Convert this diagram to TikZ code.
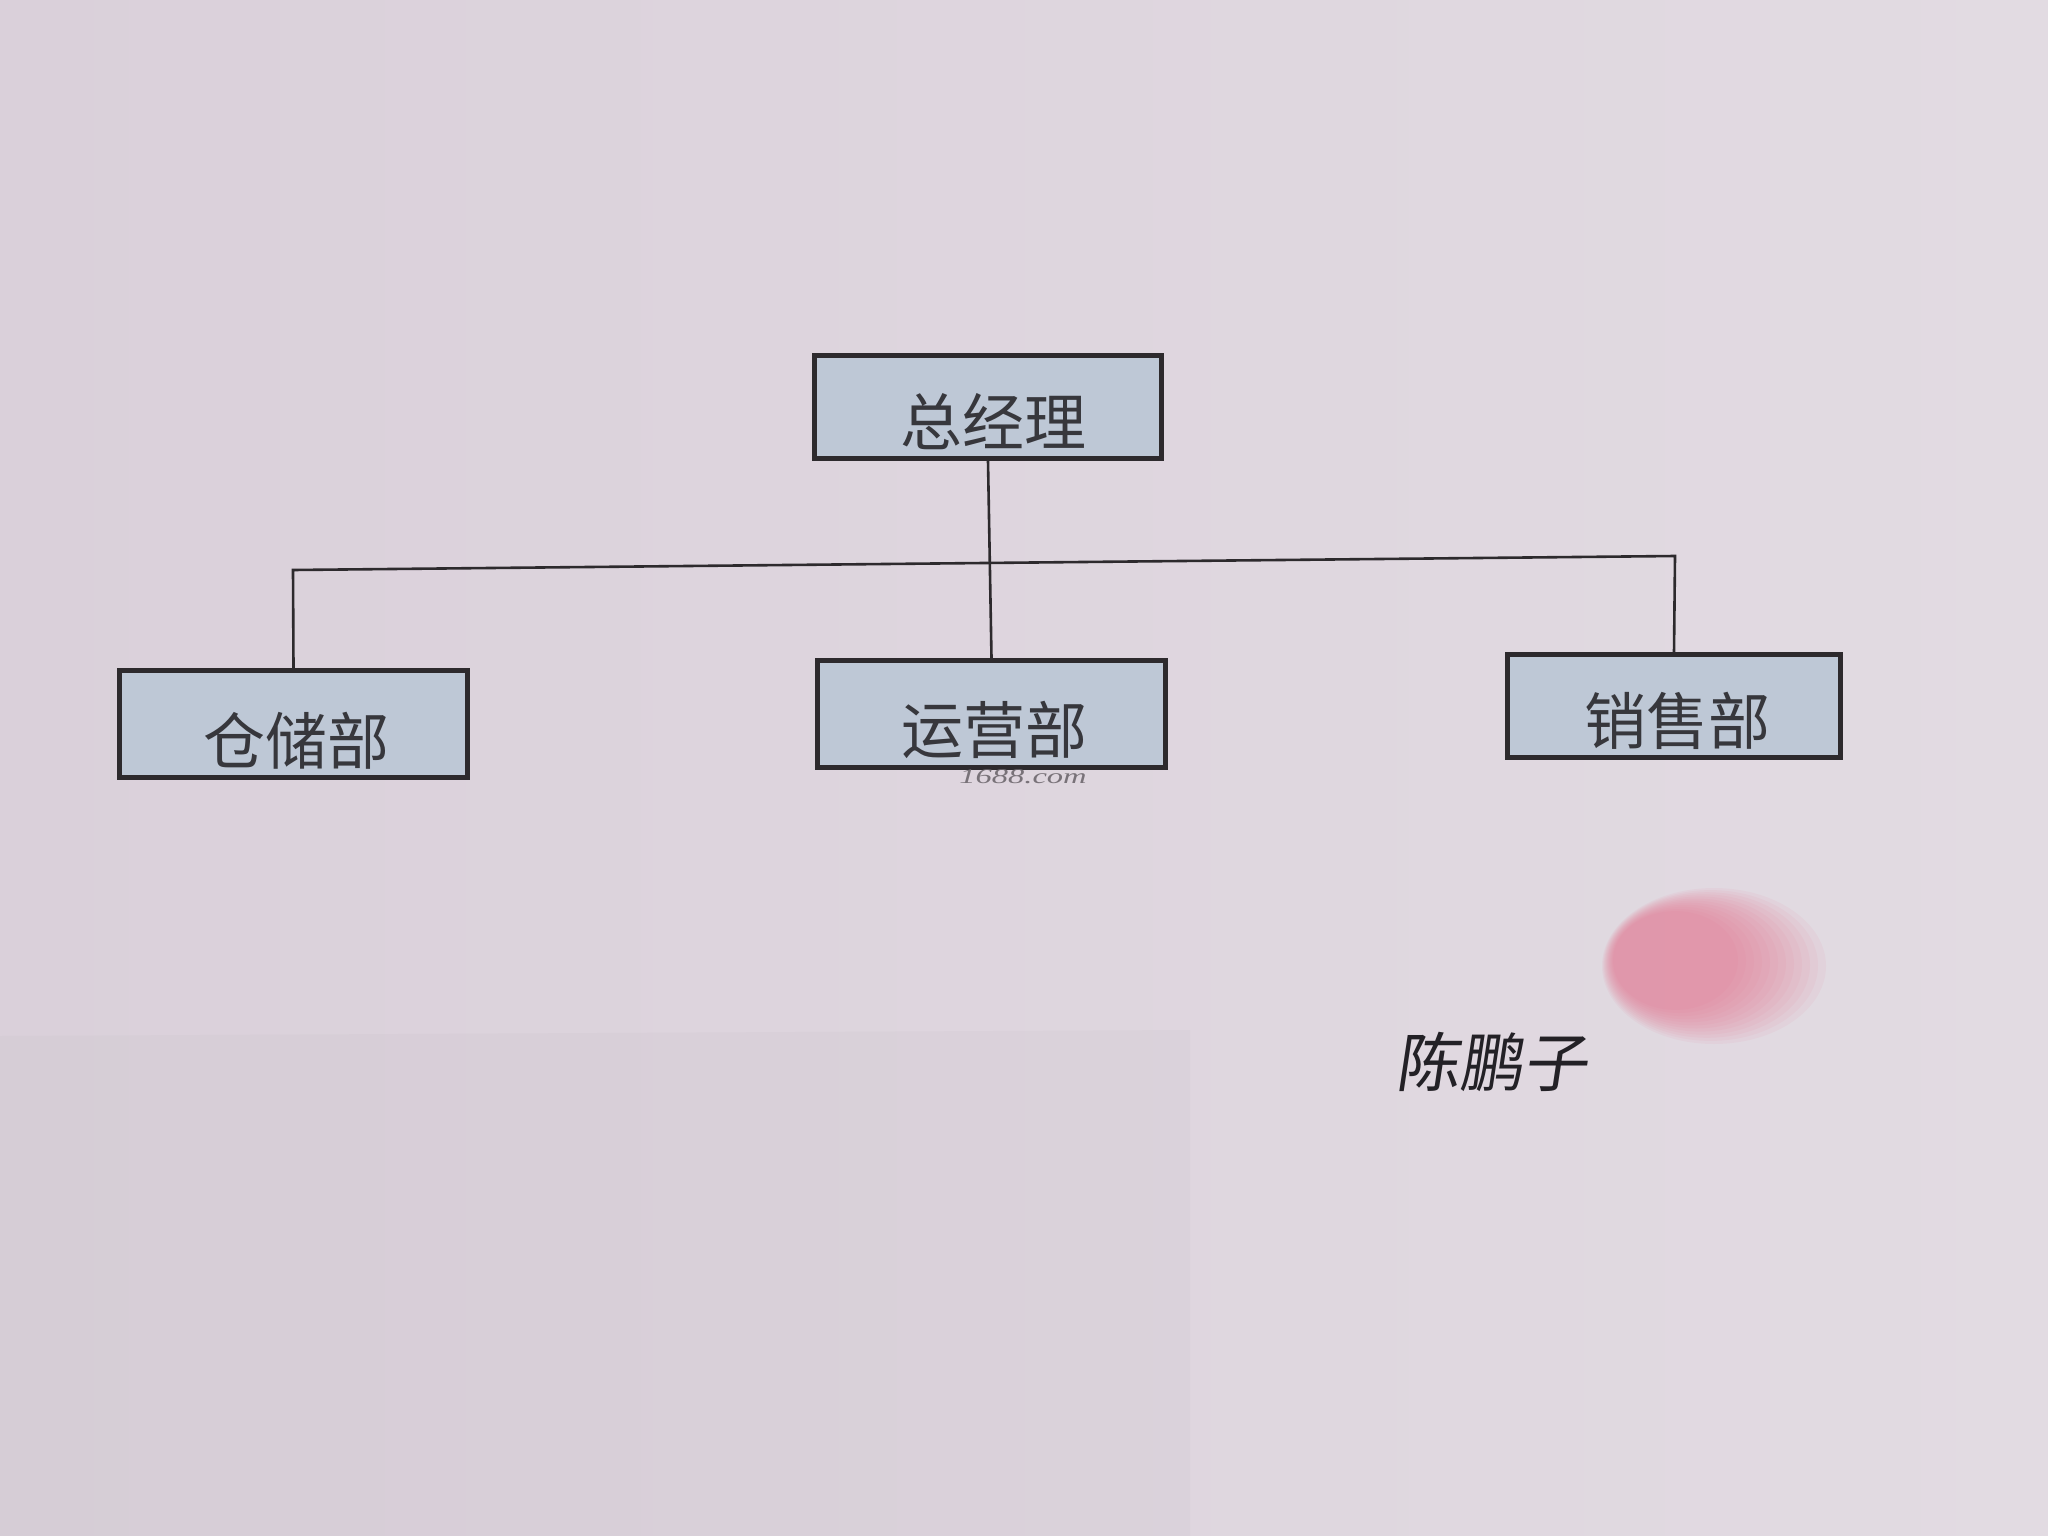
\documentclass[tikz,border=0pt]{standalone}
\usepackage{fontspec}
\setmainfont{Liberation Serif}
\newfontfamily\cjk{Noto Sans CJK SC}
\definecolor{paperL}{RGB}{218,208,218}
\definecolor{paperR}{RGB}{226,219,226}
\definecolor{shadowc}{RGB}{200,193,201}
\definecolor{boxfill}{RGB}{190,200,214}
\definecolor{border}{RGB}{45,42,45}
\definecolor{txt}{RGB}{55,55,60}
\definecolor{wmc}{RGB}{110,104,110}
\definecolor{sigc}{RGB}{35,33,38}
\definecolor{fp}{RGB}{232,112,140}
\begin{document}
\begin{tikzpicture}[x=1pt,y=-1pt,
  box/.style={draw=border, line width=5pt, fill=boxfill, inner sep=0pt},
  lbl/.style={font=\cjk\fontsize{62}{70}\selectfont, text=txt, inner sep=0pt},
  conn/.style={draw=border, line width=2.6pt}]
\useasboundingbox (0,0) rectangle (2048,1536);
% paper
\shade[left color=paperL, right color=paperR] (0,0) rectangle (2048,1536);
\fill[shadowc, opacity=.18] (0,1036) -- (1190,1030) -- (1190,1536) -- (0,1536) -- cycle;
% boxes
\node[box, minimum width=347pt, minimum height=103pt] (gm) at (988,407) {};
\node[box, minimum width=348pt, minimum height=107pt] (wh) at (293.5,724) {};
\node[box, minimum width=348pt, minimum height=107pt] (ops) at (991.5,714) {};
\node[box, minimum width=333pt, minimum height=103pt] (sales) at (1674,706) {};
% labels
\node[lbl] (gmt) at (993,422) {总经理};
\node[lbl] (wht) at (296,741) {仓储部};
\node[lbl] (opst) at (994,730) {运营部};
\node[lbl] (salest) at (1677,721) {销售部};
% connectors
\coordinate (hl) at (293,570);
\coordinate (hr) at (1675,556);
\draw[conn] (gm.south) -- (ops.north);
\draw[conn] (wh.north) -- (hl) -- (hr) -- (sales.north);
% watermark
\node[font=\itshape\fontsize{21}{21}\selectfont, text=wmc, xscale=1.55, opacity=.9, inner sep=0pt] (wm) at (1023,777) {1688.com};
% fingerprint
\foreach \i in {0,...,11}{
  \fill[fp, opacity=.07] ({1714-3.5*\i},{966-0.5*\i}) ellipse [x radius={(112-4.5*\i)*1pt}, y radius={(78-2.6*\i)*1pt}];
}
% signature
\node[font=\cjk\fontsize{64}{64}\selectfont, text=sigc, xslant=0.15, inner sep=0pt] (sig) at (1495,1062) {陈鹏子};
\end{tikzpicture}
\end{document}
